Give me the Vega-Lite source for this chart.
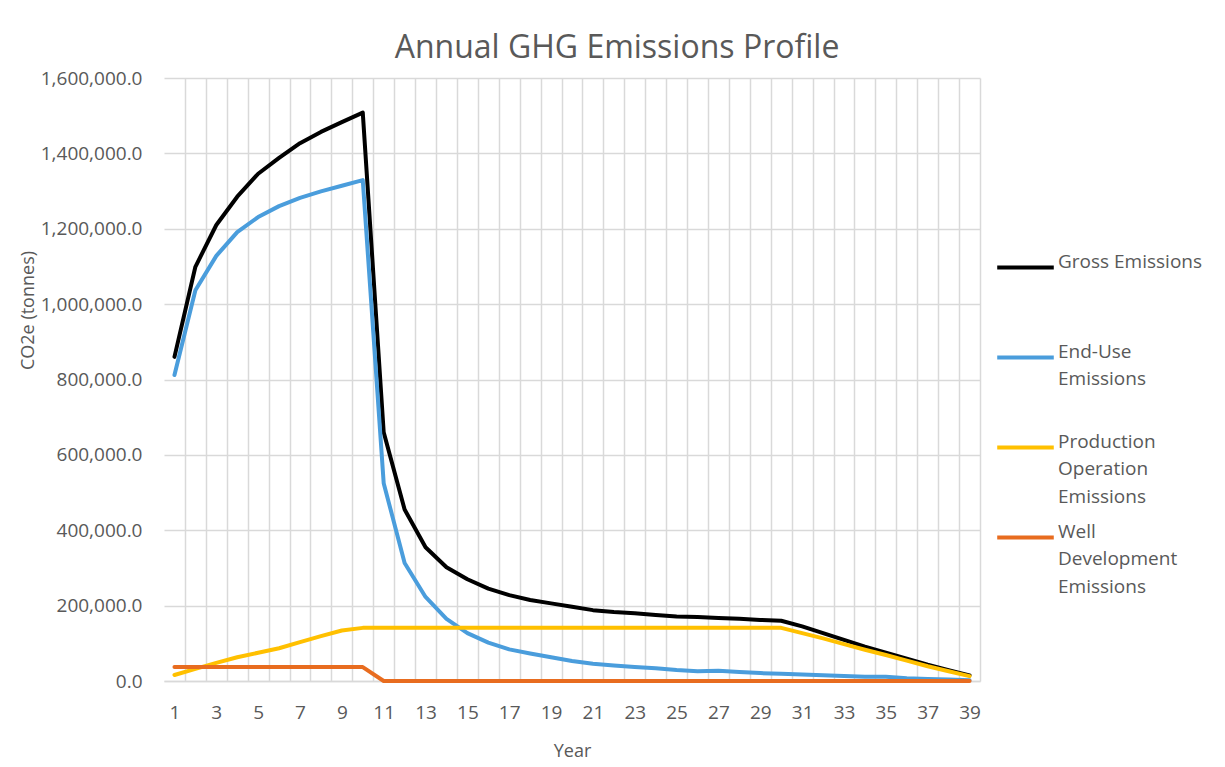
{
  "$schema": "https://vega.github.io/schema/vega-lite/v6.json",
  "width": 816,
  "height": 603,
  "autosize": "none",
  "padding": {"left": 164, "top": 78, "right": 245, "bottom": 86},
  "background": "white",
  "title": {"text": "Annual GHG Emissions Profile", "fontSize": 32, "font": "Open Sans", "fontWeight": "normal", "color": "#595959", "anchor": "middle", "dx": 45, "offset": 4},
  "datasets": {
    "d": [
      {"year":1,"series":"Gross Emissions","value":860000},{"year":2,"series":"Gross Emissions","value":1099000},{"year":3,"series":"Gross Emissions","value":1210000},{"year":4,"series":"Gross Emissions","value":1285000},{"year":5,"series":"Gross Emissions","value":1346000},{"year":6,"series":"Gross Emissions","value":1388000},{"year":7,"series":"Gross Emissions","value":1427000},{"year":8,"series":"Gross Emissions","value":1457000},{"year":9,"series":"Gross Emissions","value":1483000},{"year":10,"series":"Gross Emissions","value":1508000},
      {"year":11,"series":"Gross Emissions","value":660000},{"year":12,"series":"Gross Emissions","value":455000},{"year":13,"series":"Gross Emissions","value":355000},{"year":14,"series":"Gross Emissions","value":302000},{"year":15,"series":"Gross Emissions","value":270000},{"year":16,"series":"Gross Emissions","value":245000},{"year":17,"series":"Gross Emissions","value":228000},{"year":18,"series":"Gross Emissions","value":215000},{"year":19,"series":"Gross Emissions","value":206000},{"year":20,"series":"Gross Emissions","value":197000},
      {"year":21,"series":"Gross Emissions","value":188000},{"year":22,"series":"Gross Emissions","value":183000},{"year":23,"series":"Gross Emissions","value":180000},{"year":24,"series":"Gross Emissions","value":175000},{"year":25,"series":"Gross Emissions","value":171000},{"year":26,"series":"Gross Emissions","value":170000},{"year":27,"series":"Gross Emissions","value":167000},{"year":28,"series":"Gross Emissions","value":165000},{"year":29,"series":"Gross Emissions","value":162000},{"year":30,"series":"Gross Emissions","value":160000},
      {"year":31,"series":"Gross Emissions","value":145000},{"year":32,"series":"Gross Emissions","value":127000},{"year":33,"series":"Gross Emissions","value":109000},{"year":34,"series":"Gross Emissions","value":91000},{"year":35,"series":"Gross Emissions","value":75000},{"year":36,"series":"Gross Emissions","value":59000},{"year":37,"series":"Gross Emissions","value":43000},{"year":38,"series":"Gross Emissions","value":29000},{"year":39,"series":"Gross Emissions","value":15000},

      {"year":1,"series":"End-Use Emissions","value":812000},{"year":2,"series":"End-Use Emissions","value":1037000},{"year":3,"series":"End-Use Emissions","value":1128000},{"year":4,"series":"End-Use Emissions","value":1191000},{"year":5,"series":"End-Use Emissions","value":1231000},{"year":6,"series":"End-Use Emissions","value":1260000},{"year":7,"series":"End-Use Emissions","value":1282000},{"year":8,"series":"End-Use Emissions","value":1299000},{"year":9,"series":"End-Use Emissions","value":1314000},{"year":10,"series":"End-Use Emissions","value":1329000},
      {"year":11,"series":"End-Use Emissions","value":525000},{"year":12,"series":"End-Use Emissions","value":313000},{"year":13,"series":"End-Use Emissions","value":223000},{"year":14,"series":"End-Use Emissions","value":165000},{"year":15,"series":"End-Use Emissions","value":127000},{"year":16,"series":"End-Use Emissions","value":102000},{"year":17,"series":"End-Use Emissions","value":84000},{"year":18,"series":"End-Use Emissions","value":73000},{"year":19,"series":"End-Use Emissions","value":63000},{"year":20,"series":"End-Use Emissions","value":53000},
      {"year":21,"series":"End-Use Emissions","value":46000},{"year":22,"series":"End-Use Emissions","value":41000},{"year":23,"series":"End-Use Emissions","value":37000},{"year":24,"series":"End-Use Emissions","value":34000},{"year":25,"series":"End-Use Emissions","value":29000},{"year":26,"series":"End-Use Emissions","value":26000},{"year":27,"series":"End-Use Emissions","value":27000},{"year":28,"series":"End-Use Emissions","value":24000},{"year":29,"series":"End-Use Emissions","value":21000},{"year":30,"series":"End-Use Emissions","value":19000},
      {"year":31,"series":"End-Use Emissions","value":17000},{"year":32,"series":"End-Use Emissions","value":15000},{"year":33,"series":"End-Use Emissions","value":13000},{"year":34,"series":"End-Use Emissions","value":11000},{"year":35,"series":"End-Use Emissions","value":11000},{"year":36,"series":"End-Use Emissions","value":7000},{"year":37,"series":"End-Use Emissions","value":5000},{"year":38,"series":"End-Use Emissions","value":4000},{"year":39,"series":"End-Use Emissions","value":2000},

      {"year":1,"series":"Production Operation Emissions","value":16000},{"year":2,"series":"Production Operation Emissions","value":32000},{"year":3,"series":"Production Operation Emissions","value":48000},{"year":4,"series":"Production Operation Emissions","value":63000},{"year":5,"series":"Production Operation Emissions","value":75000},{"year":6,"series":"Production Operation Emissions","value":87000},{"year":7,"series":"Production Operation Emissions","value":103000},{"year":8,"series":"Production Operation Emissions","value":119000},{"year":9,"series":"Production Operation Emissions","value":134000},{"year":10,"series":"Production Operation Emissions","value":141000},
      {"year":11,"series":"Production Operation Emissions","value":141000},{"year":12,"series":"Production Operation Emissions","value":141000},{"year":13,"series":"Production Operation Emissions","value":141000},{"year":14,"series":"Production Operation Emissions","value":141000},{"year":15,"series":"Production Operation Emissions","value":141000},{"year":16,"series":"Production Operation Emissions","value":141000},{"year":17,"series":"Production Operation Emissions","value":141000},{"year":18,"series":"Production Operation Emissions","value":141000},{"year":19,"series":"Production Operation Emissions","value":141000},{"year":20,"series":"Production Operation Emissions","value":141000},
      {"year":21,"series":"Production Operation Emissions","value":141000},{"year":22,"series":"Production Operation Emissions","value":141000},{"year":23,"series":"Production Operation Emissions","value":141000},{"year":24,"series":"Production Operation Emissions","value":141000},{"year":25,"series":"Production Operation Emissions","value":141000},{"year":26,"series":"Production Operation Emissions","value":141000},{"year":27,"series":"Production Operation Emissions","value":141000},{"year":28,"series":"Production Operation Emissions","value":141000},{"year":29,"series":"Production Operation Emissions","value":141000},{"year":30,"series":"Production Operation Emissions","value":141000},
      {"year":31,"series":"Production Operation Emissions","value":127000},{"year":32,"series":"Production Operation Emissions","value":113000},{"year":33,"series":"Production Operation Emissions","value":98000},{"year":34,"series":"Production Operation Emissions","value":83000},{"year":35,"series":"Production Operation Emissions","value":69000},{"year":36,"series":"Production Operation Emissions","value":54000},{"year":37,"series":"Production Operation Emissions","value":39000},{"year":38,"series":"Production Operation Emissions","value":26000},{"year":39,"series":"Production Operation Emissions","value":13000},

      {"year":1,"series":"Well Development Emissions","value":37000},{"year":2,"series":"Well Development Emissions","value":37000},{"year":3,"series":"Well Development Emissions","value":37000},{"year":4,"series":"Well Development Emissions","value":37000},{"year":5,"series":"Well Development Emissions","value":37000},{"year":6,"series":"Well Development Emissions","value":37000},{"year":7,"series":"Well Development Emissions","value":37000},{"year":8,"series":"Well Development Emissions","value":37000},{"year":9,"series":"Well Development Emissions","value":37000},{"year":10,"series":"Well Development Emissions","value":37000},
      {"year":11,"series":"Well Development Emissions","value":0},{"year":12,"series":"Well Development Emissions","value":0},{"year":13,"series":"Well Development Emissions","value":0},{"year":14,"series":"Well Development Emissions","value":0},{"year":15,"series":"Well Development Emissions","value":0},{"year":16,"series":"Well Development Emissions","value":0},{"year":17,"series":"Well Development Emissions","value":0},{"year":18,"series":"Well Development Emissions","value":0},{"year":19,"series":"Well Development Emissions","value":0},{"year":20,"series":"Well Development Emissions","value":0},
      {"year":21,"series":"Well Development Emissions","value":0},{"year":22,"series":"Well Development Emissions","value":0},{"year":23,"series":"Well Development Emissions","value":0},{"year":24,"series":"Well Development Emissions","value":0},{"year":25,"series":"Well Development Emissions","value":0},{"year":26,"series":"Well Development Emissions","value":0},{"year":27,"series":"Well Development Emissions","value":0},{"year":28,"series":"Well Development Emissions","value":0},{"year":29,"series":"Well Development Emissions","value":0},{"year":30,"series":"Well Development Emissions","value":0},
      {"year":31,"series":"Well Development Emissions","value":0},{"year":32,"series":"Well Development Emissions","value":0},{"year":33,"series":"Well Development Emissions","value":0},{"year":34,"series":"Well Development Emissions","value":0},{"year":35,"series":"Well Development Emissions","value":0},{"year":36,"series":"Well Development Emissions","value":0},{"year":37,"series":"Well Development Emissions","value":0},{"year":38,"series":"Well Development Emissions","value":0},{"year":39,"series":"Well Development Emissions","value":0}
    ]
  },
  "data": {"name": "d"},
  "mark": {"type": "line", "interpolate": "linear", "strokeWidth": 4, "strokeCap": "round", "strokeJoin": "round"},
  "encoding": {
    "x": {
      "field": "year", "type": "quantitative",
      "scale": {"domain": [0.5, 39.5], "nice": false, "zero": false},
      "axis": {
        "title": "Year",
        "values": [1.5,2.5,3.5,4.5,5.5,6.5,7.5,8.5,9.5,10.5,11.5,12.5,13.5,14.5,15.5,16.5,17.5,18.5,19.5,20.5,21.5,22.5,23.5,24.5,25.5,26.5,27.5,28.5,29.5,30.5,31.5,32.5,33.5,34.5,35.5,36.5,37.5,38.5,39.5],
        "labelExpr": "(datum.value - 0.5) % 2 == 1 ? '' + (datum.value - 0.5) : ''",
        "labelOffset": -10.46,
        "labelOverlap": false,
        "labelFlush": false,
        "ticks": false,
        "labelPadding": 22,
        "titlePadding": 20,
        "domainColor": "#d9d9d9",
        "domainWidth": 1.5
      }
    },
    "y": {
      "field": "value", "type": "quantitative",
      "scale": {"domain": [0, 1600000], "nice": false},
      "axis": {
        "title": "CO2e (tonnes)",
        "values": [0,200000,400000,600000,800000,1000000,1200000,1400000,1600000],
        "format": ",.1f",
        "ticks": false,
        "domain": false,
        "labelPadding": 22,
        "titleX": -127,
        "titleY": 232
      }
    },
    "color": {
      "field": "series", "type": "nominal",
      "scale": {
        "domain": ["Gross Emissions", "End-Use Emissions", "Production Operation Emissions", "Well Development Emissions"],
        "range": ["#000000", "#4a9ddc", "#ffc000", "#e86c1f"]
      },
      "legend": {
        "title": null,
        "orient": "none",
        "legendX": 831,
        "legendY": 159,
        "symbolType": "stroke",
        "symbolSize": 3200,
        "symbolStrokeWidth": 4,
        "labelExpr": "datum.label == 'End-Use Emissions' ? ['End-Use', 'Emissions'] : datum.label == 'Production Operation Emissions' ? ['Production', 'Operation', 'Emissions'] : datum.label == 'Well Development Emissions' ? ['Well', 'Development', 'Emissions'] : datum.label",
        "labelBaseline": "alphabetic",
        "labelOffset": 2,
        "gridAlign": "all",
        "rowPadding": 0,
        "labelLimit": 300
      }
    }
  },
  "config": {
    "font": "Open Sans",
    "view": {"stroke": null},
    "axis": {
      "gridColor": "#d9d9d9",
      "gridWidth": 1.5,
      "labelColor": "#595959",
      "labelFont": "Open Sans",
      "labelFontSize": 19,
      "titleColor": "#595959",
      "titleFont": "Open Sans",
      "titleFontSize": 18,
      "titleFontWeight": "normal"
    },
    "legend": {
      "labelColor": "#595959",
      "labelFont": "Open Sans",
      "labelFontSize": 19
    },
    "style": {"guide-label": {"lineHeight": 27.5}}
  }
}
